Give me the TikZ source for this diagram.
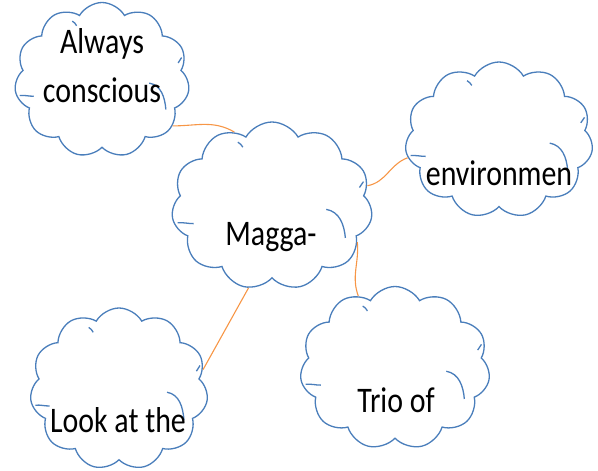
\documentclass[tikz,border=0pt]{standalone}
\usepackage{fontspec}
\newfontfamily\cloudfont[FakeStretch=0.83]{Carlito}
\usetikzlibrary{shapes.symbols}
\definecolor{CloudBlue}{RGB}{74,126,187}
\definecolor{LinkOrange}{RGB}{247,150,70}

% inner curls of a cloud: #1 node, #2 width, #3 height
\newcommand\cloudcurls[3]{%
  \begin{scope}[shift={(#1.center)}, x=#2pt, y=-#3pt]
    \draw[curl] (0.27,0.02) to[out=-10, in=95] (0.365,0.19);
    \draw[curl] (-0.47,0.10) to[out=5, in=180] (-0.39,0.105);
    \draw[curl] (0.455,-0.145) to[out=-120, in=60] (0.435,-0.11);
    \draw[curl] (-0.17,-0.38) to[out=-30, in=120] (-0.145,-0.35);
  \end{scope}}

\begin{document}
\begin{tikzpicture}[x=1pt, y=-1pt,
    idea/.style={cloud, cloud puffs=11, cloud puff arc=120, cloud ignores aspect,
      draw=CloudBlue, line width=1.3pt, fill=white, inner sep=0pt},
    curl/.style={draw=CloudBlue, line width=1.3pt},
    word/.style={font=\cloudfont\fontsize{36}{49}\selectfont, anchor=base, align=center, inner sep=0pt},
    link/.style={draw=LinkOrange, line width=1.1pt}]
    \useasboundingbox (0,0) rectangle (598,471);

    % clouds
    \node[idea, minimum width=175pt, minimum height=155pt] (always) at (102,80) {};
    \node[idea, minimum width=201pt, minimum height=168pt] (magga) at (272,206) {};
    \node[idea, minimum width=188pt, minimum height=156pt] (env) at (499,140) {};
    \node[idea, minimum width=178pt, minimum height=162pt] (look) at (119,389) {};
    \node[idea, minimum width=190pt, minimum height=163pt] (trio) at (395,368) {};
    \cloudcurls{always}{175}{155}
    \cloudcurls{magga}{201}{168}
    \cloudcurls{env}{188}{156}
    \cloudcurls{look}{178}{162}
    \cloudcurls{trio}{190}{163}

    % links to the centre cloud
    \draw[link] (always.-33) to[out=0, in=150] (magga.117);
    \draw[link] (magga.12) to[out=10, in=200] (env.191);
    \draw[link] (magga.-23) to[out=-85, in=110] (trio.117);
    \draw[link] (magga.254) -- (look.13);

    % texts
    \node[word] (alwaysText) at (102,102) {Always\\conscious};
    \node[word] (maggaText) at (271,245) {Magga-};
    \node[word] (envText) at (499,185) {environmen};
    \node[word] (lookText) at (118,432) {Look at the};
    \node[word] (trioText) at (396,412) {Trio of};
\end{tikzpicture}
\end{document}
